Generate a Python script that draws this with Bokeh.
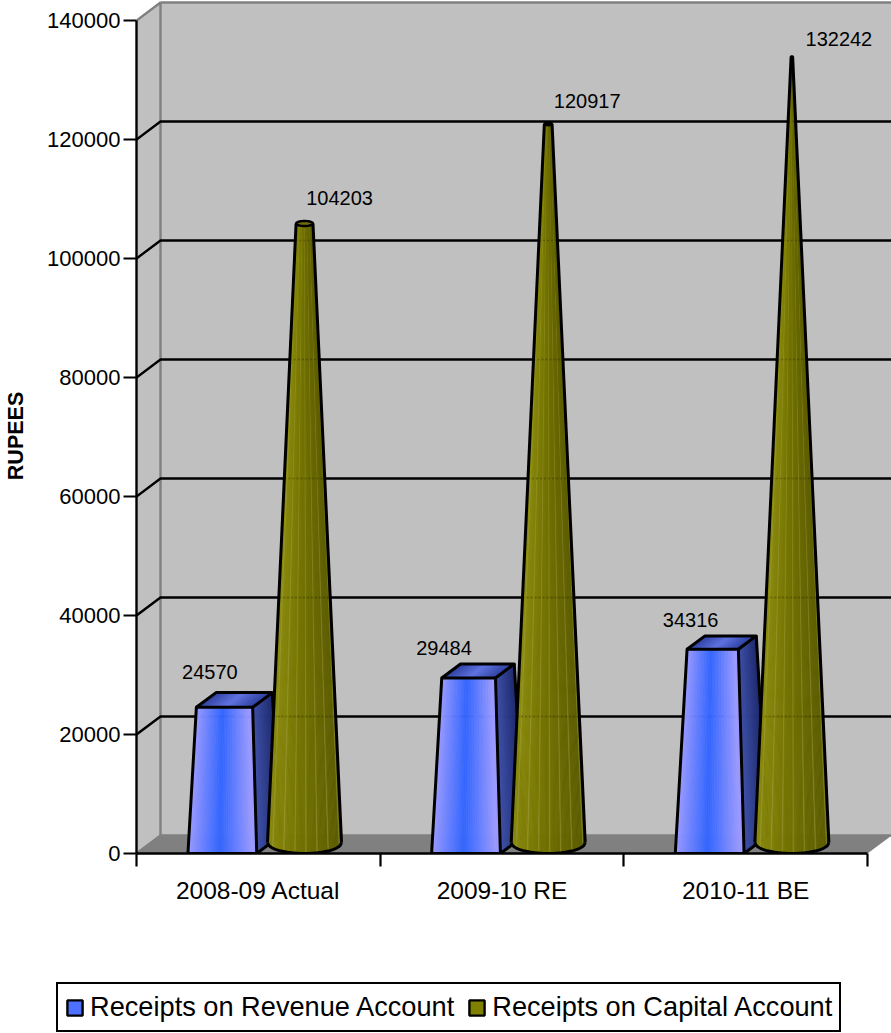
from bokeh.embed import file_html
from bokeh.resources import INLINE
from bokeh.plotting import figure
from bokeh.layouts import column
from bokeh.models import (Range1d, LinearAxis, FixedTicker, BasicTickFormatter, Legend, LegendItem)
from bokeh.core.properties import value
import math

# Chart data
CATEGORIES = ["2008-09 Actual", "2009-10 RE", "2010-11 BE"]
REVENUE = [24570, 29484, 34316]
CAPITAL = [104203, 120917, 132242]
Y_TICKS = [0, 20000, 40000, 60000, 80000, 100000, 120000, 140000]
SERIES_NAMES = ["Receipts on Revenue Account", "Receipts on Capital Account"]

# Page layout in pixels
WIDTH, HEIGHT = 891, 1033
LEFT, BOTTOM_PX = 136, 853
PLOT_HEIGHT = 925
UNIT_PX = 243.67                # one category
VALUE_PER_PX = 140000 / 833.0
FONT = "Liberation Sans"

def hx(px):
    return px / UNIT_PX

def hy(px):
    return px * VALUE_PER_PX

DX, DY = hx(24), hy(18)         # depth of the 3D box
APEX = 135000                   # height at which the tapered shapes would close
BAR_L, BAR_R = hx(-70.4), hx(-1.6)
BAR_DX, BAR_DY = hx(24), hy(18)
CONE_C = hx(46.2)
CONE_R = hx(37)
CONE_B = hy(11)
CONE_LIFT = hy(10)

x_end = 0.5 + (WIDTH - LEFT) / UNIT_PX
p = figure(width=WIDTH, height=PLOT_HEIGHT, output_backend="svg", toolbar_location=None,
           x_range=Range1d(0.5, x_end), y_range=Range1d(0, hy(BOTTOM_PX)),
           x_axis_location=None, y_axis_location=None, frame_align=False,
           min_border_left=LEFT, min_border_right=0, min_border_top=0,
           min_border_bottom=PLOT_HEIGHT - BOTTOM_PX)
p.outline_line_color = None
p.grid.visible = False
p.background_fill_color = "white"

x0, x1 = 0.5, 3.5
top = Y_TICKS[-1]

# Walls and floor of the box
p.patch([x0, x0 + DX, x0 + DX, x0], [0, DY, top + DY, top], fill_color="#c0c0c0", line_color=None)
p.patch([x0 + DX, x1 + DX, x1 + DX, x0 + DX], [DY, DY, top + DY, top + DY], fill_color="#c0c0c0", line_color=None)
p.patch([x0, x0 + DX, x1 + DX, x1], [0, DY, DY, 0], fill_color="#808080", line_color=None)
p.multi_line([[x0, x0 + DX, x0 + DX], [x0 + DX, x1 + DX], [x0, x0 + DX], [x0 + DX, x1 + DX]],
             [[top, top + DY, DY], [top + DY, top + DY], [0, DY], [DY, DY]],
             line_color="#808080", line_width=2.4)

# Gridlines run across the side wall and the back wall
grid_ticks = Y_TICKS[1:-1]
p.multi_line([[x0, x0 + DX, x1 + DX] for _ in grid_ticks],
             [[t, t + DY, t + DY] for t in grid_ticks],
             line_color="black", line_width=2.4)

def mix(a, b, t):
    return "#%02x%02x%02x" % tuple(round(a[i] + (b[i] - a[i]) * t) for i in range(3))

def strips(xs_a, ys_a, xs_b, ys_b, colors):
    """Fill a band between two polylines with thin coloured slices."""
    xs, ys = [], []
    for i in range(len(colors)):
        xs.append([xs_a[i], xs_a[i + 1], xs_b[i + 1], xs_b[i]])
        ys.append([ys_a[i], ys_a[i + 1], ys_b[i + 1], ys_b[i]])
    p.patches(xs, ys, fill_color=colors, line_color=colors, line_width=0.7)

def lerp(a, b, t):
    return a + (b - a) * t

# Tapered revenue bars
N = 36
LIGHT, BLUE = (153, 153, 255), (51, 102, 255)
for i, v in enumerate(REVENUE):
    c = i + 1
    f = v / APEX
    xl, xr = c + BAR_L, c + BAR_R
    ax = (xl + xr) / 2 + BAR_DX / 2
    tfl, tfr = lerp(xl, ax, f), lerp(xr, ax, f)
    tbl, tbr = lerp(xl + BAR_DX, ax, f), lerp(xr + BAR_DX, ax, f)
    yb = v + BAR_DY * (1 - f)
    us = [k / N for k in range(N + 1)]
    # right side
    side = [mix((64, 82, 170), (30, 42, 110), k / (N - 1)) for k in range(N)]
    strips([lerp(tfr, tbr, u) for u in us], [lerp(v, yb, u) for u in us],
           [lerp(xr, xr + BAR_DX, u) for u in us], [lerp(0, BAR_DY, u) for u in us], side)
    # top face
    lid = [mix((44, 62, 160), (92, 112, 224), 1 - abs(2 * k / (N - 1) - 1)) for k in range(N)]
    strips([lerp(tfl, tfr, u) for u in us], [v] * (N + 1),
           [lerp(tbl, tbr, u) for u in us], [yb] * (N + 1), lid)
    # front face
    front = [mix(LIGHT, BLUE, 1 - min(1, abs(k / (N - 1) - 0.47) / 0.47)) for k in range(N)]
    strips([lerp(xl, xr, u) for u in us], [0] * (N + 1),
           [lerp(tfl, tfr, u) for u in us], [v] * (N + 1), front)
    p.multi_line([[xl, tfl, tfr, xr, xl], [tfr, tbr, tbl, tfl], [tbr, xr + BAR_DX, xr]],
                 [[0, v, v, 0, 0], [v, yb, yb, v], [yb, BAR_DY, 0]],
                 line_color="black", line_width=3, line_join="round")

# Capital cones
M = 60
OLIVE_HI, OLIVE_MID, OLIVE_LO = (140, 140, 14), (114, 114, 0), (92, 92, 0)

def cone_color(k):
    u = k / (M - 1)
    base = mix(OLIVE_HI, OLIVE_MID, u / 0.45) if u < 0.45 else mix(OLIVE_MID, OLIVE_LO, (u - 0.45) / 0.55)
    rgb = tuple(int(base[j:j + 2], 16) for j in (1, 3, 5))
    if k % 9 == 4:
        return mix(rgb, (176, 176, 90), 0.4)
    return base

for i, v in enumerate(CAPITAL):
    c = i + 1 + CONE_C
    f = v / APEX
    r = CONE_R * (1 - f)
    b = CONE_B * (1 - f)
    us = [-1 + 2 * k / M for k in range(M + 1)]
    arc = [math.sqrt(max(0, 1 - u * u)) for u in us]
    xb = [c + CONE_R * u for u in us]
    yb = [CONE_B - CONE_B * a for a in arc]
    xt = [c + r * u for u in us]
    yt = [CONE_LIFT + v - b * a for a in arc]
    strips(xb, yb, xt, yt, [cone_color(k) for k in range(M)])

    # Faint trace of the gridlines showing through the cone
    seen = [t for t in grid_ticks if t + DY < v + CONE_LIFT]
    half = [CONE_R * (1 - (t + DY - CONE_LIFT) / APEX) for t in seen]
    p.multi_line([[c - h, c + h] for h in half], [[t + DY, t + DY] for t in seen],
                 line_color="black", line_width=1.6, line_alpha=0.22, line_dash="2 2")

    # Upper ring
    ang = [2 * math.pi * k / 40 for k in range(41)]
    ring_x = [c + r * math.cos(a) for a in ang]
    ring_y = [v + CONE_LIFT + b * math.sin(a) for a in ang]
    p.patch(ring_x, ring_y, fill_color="#6e6e10", line_color="black", line_width=2.4)
    p.multi_line([[xb[0], xt[0]], [xb[-1], xt[-1]], xb],
                 [[yb[0], yt[0]], [yb[-1], yt[-1]], yb],
                 line_color="black", line_width=3, line_join="round")

# Value labels
BAR_LABEL_DX, BAR_LABEL_DY = [-12.5, -22, -19], [-35, -30, -29]
CONE_LABEL_DX, CONE_LABEL_DY = [35, 39, 47], [-25, -23, -18]
label_src_x = [i + 1 + (BAR_L + BAR_R) / 2 for i in range(3)] + [i + 1 + CONE_C for i in range(3)]
label_src_y = REVENUE + [v + CONE_LIFT for v in CAPITAL]
p.text(label_src_x, label_src_y, text=[str(v) for v in REVENUE + CAPITAL],
       x_offset=BAR_LABEL_DX + CONE_LABEL_DX, y_offset=BAR_LABEL_DY + CONE_LABEL_DY,
       text_align="center", text_baseline="middle", text_color="black",
       text_font=value(FONT), text_font_size="20px")

# Axes
y_axis = LinearAxis(ticker=FixedTicker(ticks=Y_TICKS), bounds=(0, top),
                    formatter=BasicTickFormatter(use_scientific=False))
y_axis.axis_line_color = "black"
y_axis.axis_line_width = 2.4
y_axis.major_tick_line_color = "black"
y_axis.major_tick_line_width = 2.2
y_axis.major_tick_out = 13
y_axis.major_tick_in = 0
y_axis.minor_tick_line_color = None
y_axis.major_label_standoff = 3
y_axis.major_label_text_font = FONT
y_axis.major_label_text_font_size = "22px"
y_axis.major_label_text_color = "black"
# Trailing no-break spaces centre the rotated title on the axis line rather than on the frame
y_axis.axis_label = "RUPEES\u00a0\u00a0\u00a0"
y_axis.axis_label_standoff = 16
y_axis.axis_label_text_font = FONT
y_axis.axis_label_text_font_size = "21.5px"
y_axis.axis_label_text_font_style = "bold"
y_axis.axis_label_text_color = "black"
p.add_layout(y_axis, "left")

x_axis = LinearAxis(ticker=FixedTicker(ticks=[1, 2, 3], minor_ticks=[0.5, 1.5, 2.5, 3.5]), bounds=(x0, x1),
                    major_label_overrides={i + 1: c for i, c in enumerate(CATEGORIES)})
x_axis.axis_line_color = "black"
x_axis.axis_line_width = 2.4
x_axis.major_tick_line_color = None
x_axis.major_tick_out = 0
x_axis.major_tick_in = 0
x_axis.minor_tick_line_color = "black"
x_axis.minor_tick_line_width = 2.2
x_axis.minor_tick_out = 13
x_axis.minor_tick_in = 0
x_axis.major_label_standoff = 10
x_axis.major_label_text_font = FONT
x_axis.major_label_text_font_size = "24.5px"
x_axis.major_label_text_color = "black"
p.add_layout(x_axis, "below")

# Legend strip underneath the chart
q = figure(width=WIDTH, height=HEIGHT - PLOT_HEIGHT, output_backend="svg", toolbar_location=None,
           x_range=Range1d(0, 1), y_range=Range1d(0, 1), x_axis_location=None, y_axis_location=None, frame_align=False,
           min_border_left=0, min_border_right=0, min_border_top=0, min_border_bottom=0)
q.outline_line_color = None
q.grid.visible = False
nan = float("nan")
swatch_a = q.quad(left=[nan], right=[nan], top=[nan], bottom=[nan], fill_color="#4d70ff", line_color="black", line_width=2.4)
swatch_b = q.quad(left=[nan], right=[nan], top=[nan], bottom=[nan], fill_color="#808000", line_color="black", line_width=2.4)
legend = Legend(items=[LegendItem(label=SERIES_NAMES[0], renderers=[swatch_a]),
                       LegendItem(label=SERIES_NAMES[1], renderers=[swatch_b])],
                orientation="horizontal", location=(56, 1),
                border_line_color="black", border_line_width=2.4, border_line_alpha=1, background_fill_color="white",
                background_fill_alpha=1, margin=0, padding=7, spacing=13, label_standoff=6,
                glyph_width=19, glyph_height=19, label_text_font=FONT, label_text_font_size="27.2px",
                label_text_line_height=0.9, label_text_color="black", label_text_baseline="middle")
q.add_layout(legend, "center")

open("out.html", "w").write(file_html(column(p, q, spacing=0), INLINE))
